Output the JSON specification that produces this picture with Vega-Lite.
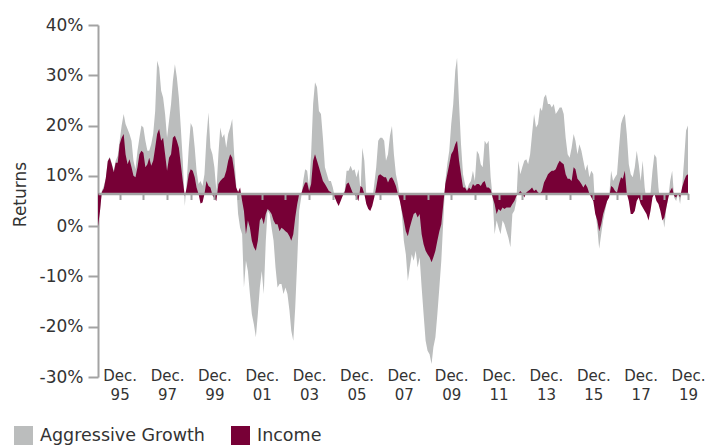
{
  "$schema": "https://vega.github.io/schema/vega-lite/v6.json",
  "width": 590,
  "height": 352,
  "autosize": {"type": "none"},
  "padding": {"left": 98, "top": 25, "right": 19, "bottom": 68},
  "background": "white",
  "config": {
    "view": {"stroke": null},
    "font": "DejaVu Sans",
    "axis": {"grid": false, "labelFont": "DejaVu Sans", "titleFont": "DejaVu Sans", "labelColor": "#333333", "titleColor": "#333333"},
    "legend": {"labelFont": "DejaVu Sans", "labelColor": "#333333", "labelLimit": 0}
  },
  "data": {
    "values": [
      {"d":"1995-01-01","g":0.5,"i":0},{"d":"1995-02-01","g":3,"i":3},{"d":"1995-03-01","g":7,"i":6.8},{"d":"1995-04-01","g":8,"i":7.5},{"d":"1995-05-01","g":9.5,"i":9.5},{"d":"1995-06-01","g":13,"i":12.9},{"d":"1995-07-01","g":13.8,"i":13.6},{"d":"1995-08-01","g":12.5,"i":12.3},{"d":"1995-09-01","g":11,"i":10.7},{"d":"1995-10-01","g":13,"i":12.6},{"d":"1995-11-01","g":14,"i":12.6},{"d":"1995-12-01","g":17,"i":16.3},
      {"d":"1996-01-01","g":20,"i":17.6},{"d":"1996-02-01","g":22.3,"i":18.3},{"d":"1996-03-01","g":20.3,"i":14.3},{"d":"1996-04-01","g":19.3,"i":12.3},{"d":"1996-05-01","g":18.3,"i":13.3},{"d":"1996-06-01","g":17,"i":11.7},{"d":"1996-07-01","g":13,"i":10},{"d":"1996-08-01","g":11.3,"i":9.7},{"d":"1996-09-01","g":15,"i":11.7},{"d":"1996-10-01","g":17.6,"i":14.3},{"d":"1996-11-01","g":20,"i":15},{"d":"1996-12-01","g":19.6,"i":14.6},
      {"d":"1997-01-01","g":17,"i":11.7},{"d":"1997-02-01","g":15,"i":12.3},{"d":"1997-03-01","g":15,"i":13.6},{"d":"1997-04-01","g":16.3,"i":12},{"d":"1997-05-01","g":18.3,"i":13},{"d":"1997-06-01","g":22.9,"i":15.6},{"d":"1997-07-01","g":32.9,"i":18.3},{"d":"1997-08-01","g":31.5,"i":19.3},{"d":"1997-09-01","g":26.9,"i":17},{"d":"1997-10-01","g":25.6,"i":17.6},{"d":"1997-11-01","g":22.3,"i":14.3},{"d":"1997-12-01","g":17.6,"i":11},
      {"d":"1998-01-01","g":21,"i":13.6},{"d":"1998-02-01","g":24.3,"i":14.3},{"d":"1998-03-01","g":28.9,"i":17.6},{"d":"1998-04-01","g":32.2,"i":18},{"d":"1998-05-01","g":29.6,"i":17},{"d":"1998-06-01","g":25.6,"i":15.6},{"d":"1998-07-01","g":19.6,"i":12.3},{"d":"1998-08-01","g":13,"i":9},{"d":"1998-09-01","g":4,"i":6},{"d":"1998-10-01","g":9,"i":7.7},{"d":"1998-11-01","g":15.6,"i":10.3},{"d":"1998-12-01","g":20.5,"i":11.3},
      {"d":"1999-01-01","g":19.6,"i":11},{"d":"1999-02-01","g":15.6,"i":9.7},{"d":"1999-03-01","g":11,"i":7.7},{"d":"1999-04-01","g":8.4,"i":6.4},{"d":"1999-05-01","g":9,"i":4.5},{"d":"1999-06-01","g":8,"i":4.7},{"d":"1999-07-01","g":10.3,"i":6.4},{"d":"1999-08-01","g":17.6,"i":9},{"d":"1999-09-01","g":22.6,"i":8},{"d":"1999-10-01","g":15.6,"i":7.7},{"d":"1999-11-01","g":14.3,"i":6.2},{"d":"1999-12-01","g":11.7,"i":5.5},
      {"d":"2000-01-01","g":7,"i":5},{"d":"2000-02-01","g":14.3,"i":8.4},{"d":"2000-03-01","g":19.6,"i":9},{"d":"2000-04-01","g":17.6,"i":9.4},{"d":"2000-05-01","g":18.3,"i":9.7},{"d":"2000-06-01","g":15.6,"i":11},{"d":"2000-07-01","g":18.3,"i":13},{"d":"2000-08-01","g":19.6,"i":14.3},{"d":"2000-09-01","g":21.3,"i":13.6},{"d":"2000-10-01","g":14.3,"i":11},{"d":"2000-11-01","g":8.4,"i":7.7},{"d":"2000-12-01","g":2.4,"i":6.8},
      {"d":"2001-01-01","g":-0.3,"i":7.7},{"d":"2001-02-01","g":-1.6,"i":5},{"d":"2001-03-01","g":-12.2,"i":3},{"d":"2001-04-01","g":-6.9,"i":-1.6},{"d":"2001-05-01","g":-8.9,"i":1.1},{"d":"2001-06-01","g":-13.5,"i":-0.3},{"d":"2001-07-01","g":-17.5,"i":-2.9},{"d":"2001-08-01","g":-19.5,"i":-4.2},{"d":"2001-09-01","g":-22.1,"i":-4.9},{"d":"2001-10-01","g":-17.5,"i":-2.9},{"d":"2001-11-01","g":-12.2,"i":1.1},{"d":"2001-12-01","g":-8.9,"i":1.7},
      {"d":"2002-01-01","g":-13.5,"i":0.4},{"d":"2002-02-01","g":-2.9,"i":2.4},{"d":"2002-03-01","g":3.1,"i":3.4},{"d":"2002-04-01","g":2.4,"i":3},{"d":"2002-05-01","g":-0.3,"i":2.4},{"d":"2002-06-01","g":-2.9,"i":1.1},{"d":"2002-07-01","g":-8.2,"i":0.4},{"d":"2002-08-01","g":-12.2,"i":0.4},{"d":"2002-09-01","g":-11.5,"i":-1},{"d":"2002-10-01","g":-11.5,"i":-0.3},{"d":"2002-11-01","g":-13.5,"i":-0.6},{"d":"2002-12-01","g":-12.2,"i":-1},
      {"d":"2003-01-01","g":-13.5,"i":-1.3},{"d":"2003-02-01","g":-16.8,"i":-2},{"d":"2003-03-01","g":-20.8,"i":-2.9},{"d":"2003-04-01","g":-22.8,"i":-1.6},{"d":"2003-05-01","g":-16.2,"i":1.7},{"d":"2003-06-01","g":-6.9,"i":4.4},{"d":"2003-07-01","g":3.1,"i":6.4},{"d":"2003-08-01","g":5.7,"i":6.4},{"d":"2003-09-01","g":9,"i":7.7},{"d":"2003-10-01","g":11.3,"i":8.7},{"d":"2003-11-01","g":11,"i":8.7},{"d":"2003-12-01","g":7.7,"i":7},
      {"d":"2004-01-01","g":14.3,"i":8.4},{"d":"2004-02-01","g":24.3,"i":13},{"d":"2004-03-01","g":28.6,"i":14.3},{"d":"2004-04-01","g":27.6,"i":13},{"d":"2004-05-01","g":22.9,"i":11.7},{"d":"2004-06-01","g":22.3,"i":10.3},{"d":"2004-07-01","g":17.6,"i":9},{"d":"2004-08-01","g":11.7,"i":8.4},{"d":"2004-09-01","g":10.3,"i":7.7},{"d":"2004-10-01","g":9,"i":7},{"d":"2004-11-01","g":9,"i":6.8},{"d":"2004-12-01","g":7.7,"i":6.3},
      {"d":"2005-01-01","g":5.7,"i":5.7},{"d":"2005-02-01","g":5,"i":4.7},{"d":"2005-03-01","g":4.4,"i":4},{"d":"2005-04-01","g":5.7,"i":5},{"d":"2005-05-01","g":6.4,"i":6},{"d":"2005-06-01","g":7,"i":6.8},{"d":"2005-07-01","g":11,"i":8.4},{"d":"2005-08-01","g":11,"i":8.7},{"d":"2005-09-01","g":12,"i":7.7},{"d":"2005-10-01","g":11,"i":6.7},{"d":"2005-11-01","g":11.3,"i":6.4},{"d":"2005-12-01","g":9.7,"i":5.7},
      {"d":"2006-01-01","g":11.3,"i":5},{"d":"2006-02-01","g":7,"i":8},{"d":"2006-03-01","g":15.6,"i":7.7},{"d":"2006-04-01","g":13,"i":6.4},{"d":"2006-05-01","g":6.4,"i":4.4},{"d":"2006-06-01","g":5,"i":3.4},{"d":"2006-07-01","g":4.4,"i":3},{"d":"2006-08-01","g":5,"i":4},{"d":"2006-09-01","g":8.4,"i":5.7},{"d":"2006-10-01","g":11.7,"i":7.7},{"d":"2006-11-01","g":17,"i":10},{"d":"2006-12-01","g":17.6,"i":10.3},
      {"d":"2007-01-01","g":17.6,"i":10},{"d":"2007-02-01","g":17,"i":9.7},{"d":"2007-03-01","g":13,"i":9.7},{"d":"2007-04-01","g":14.3,"i":8.7},{"d":"2007-05-01","g":18,"i":9.5},{"d":"2007-06-01","g":19.9,"i":9.7},{"d":"2007-07-01","g":14.3,"i":9},{"d":"2007-08-01","g":10.3,"i":8},{"d":"2007-09-01","g":8.4,"i":6.4},{"d":"2007-10-01","g":5.7,"i":5},{"d":"2007-11-01","g":2.4,"i":3},{"d":"2007-12-01","g":-2.9,"i":1.1},
      {"d":"2008-01-01","g":-5.6,"i":-1},{"d":"2008-02-01","g":-10.9,"i":-2},{"d":"2008-03-01","g":-8.2,"i":-0.3},{"d":"2008-04-01","g":-5.6,"i":1.1},{"d":"2008-05-01","g":-6.9,"i":2.4},{"d":"2008-06-01","g":-4.9,"i":2.7},{"d":"2008-07-01","g":-8.2,"i":1.7},{"d":"2008-08-01","g":-6.2,"i":2.4},{"d":"2008-09-01","g":-12.2,"i":-1.6},{"d":"2008-10-01","g":-17.5,"i":-3.6},{"d":"2008-11-01","g":-22.8,"i":-4.9},{"d":"2008-12-01","g":-24.8,"i":-5.6},
      {"d":"2009-01-01","g":-25.5,"i":-6.2},{"d":"2009-02-01","g":-27.4,"i":-7.2},{"d":"2009-03-01","g":-24.1,"i":-6.2},{"d":"2009-04-01","g":-22.1,"i":-4.9},{"d":"2009-05-01","g":-17.5,"i":-2.9},{"d":"2009-06-01","g":-12.2,"i":-1},{"d":"2009-07-01","g":-6.9,"i":0.4},{"d":"2009-08-01","g":1.1,"i":4.4},{"d":"2009-09-01","g":9,"i":8.4},{"d":"2009-10-01","g":12.3,"i":10.3},{"d":"2009-11-01","g":15,"i":12.3},{"d":"2009-12-01","g":20.3,"i":14.3},
      {"d":"2010-01-01","g":24.3,"i":15},{"d":"2010-02-01","g":30.9,"i":16.3},{"d":"2010-03-01","g":33.5,"i":17},{"d":"2010-04-01","g":24.3,"i":13},{"d":"2010-05-01","g":16.3,"i":10.3},{"d":"2010-06-01","g":10.3,"i":7.7},{"d":"2010-07-01","g":8.4,"i":7.7},{"d":"2010-08-01","g":7.3,"i":7},{"d":"2010-09-01","g":8.4,"i":7.7},{"d":"2010-10-01","g":9,"i":7.3},{"d":"2010-11-01","g":11,"i":8.4},{"d":"2010-12-01","g":9,"i":8},
      {"d":"2011-01-01","g":15,"i":8.4},{"d":"2011-02-01","g":14.3,"i":8.4},{"d":"2011-03-01","g":12.3,"i":8},{"d":"2011-04-01","g":11.7,"i":8.7},{"d":"2011-05-01","g":17,"i":9},{"d":"2011-06-01","g":16.3,"i":7.7},{"d":"2011-07-01","g":17,"i":7.7},{"d":"2011-08-01","g":9.7,"i":7.3},{"d":"2011-09-01","g":5.7,"i":5.7},{"d":"2011-10-01","g":-1.6,"i":4.4},{"d":"2011-11-01","g":1.1,"i":2.4},{"d":"2011-12-01","g":-0.3,"i":3.4},
      {"d":"2012-01-01","g":-1.6,"i":3},{"d":"2012-02-01","g":1.1,"i":3.7},{"d":"2012-03-01","g":0.4,"i":3.4},{"d":"2012-04-01","g":-1,"i":3.7},{"d":"2012-05-01","g":-2.3,"i":3.7},{"d":"2012-06-01","g":-4.2,"i":3.7},{"d":"2012-07-01","g":2.4,"i":4.4},{"d":"2012-08-01","g":3.1,"i":5},{"d":"2012-09-01","g":5,"i":6},{"d":"2012-10-01","g":13,"i":6.5},{"d":"2012-11-01","g":10.3,"i":7},{"d":"2012-12-01","g":11.7,"i":6.5},
      {"d":"2013-01-01","g":13,"i":5.7},{"d":"2013-02-01","g":13.3,"i":6.7},{"d":"2013-03-01","g":12.3,"i":7},{"d":"2013-04-01","g":14.3,"i":7.3},{"d":"2013-05-01","g":18.3,"i":7.7},{"d":"2013-06-01","g":22.3,"i":7},{"d":"2013-07-01","g":19.6,"i":7.3},{"d":"2013-08-01","g":20.3,"i":6.7},{"d":"2013-09-01","g":23.6,"i":6.5},{"d":"2013-10-01","g":22.9,"i":7},{"d":"2013-11-01","g":25.6,"i":8.7},{"d":"2013-12-01","g":26.2,"i":9.4},
      {"d":"2014-01-01","g":24.3,"i":10.3},{"d":"2014-02-01","g":24.3,"i":10.7},{"d":"2014-03-01","g":23.6,"i":11},{"d":"2014-04-01","g":24.3,"i":11},{"d":"2014-05-01","g":22.3,"i":11.3},{"d":"2014-06-01","g":22.9,"i":12.3},{"d":"2014-07-01","g":23.6,"i":13},{"d":"2014-08-01","g":23.6,"i":12.6},{"d":"2014-09-01","g":22.3,"i":12.3},{"d":"2014-10-01","g":17.6,"i":10.3},{"d":"2014-11-01","g":14.3,"i":9.4},{"d":"2014-12-01","g":13.6,"i":9.4},
      {"d":"2015-01-01","g":15.6,"i":9},{"d":"2015-02-01","g":18.3,"i":11.7},{"d":"2015-03-01","g":17,"i":11.3},{"d":"2015-04-01","g":14.3,"i":9.4},{"d":"2015-05-01","g":16.3,"i":9},{"d":"2015-06-01","g":15,"i":8.4},{"d":"2015-07-01","g":13,"i":7.7},{"d":"2015-08-01","g":11,"i":8.4},{"d":"2015-09-01","g":12.3,"i":7.7},{"d":"2015-10-01","g":9.7,"i":6.5},{"d":"2015-11-01","g":11,"i":5.7},{"d":"2015-12-01","g":10.3,"i":5},
      {"d":"2016-01-01","g":3.1,"i":2.4},{"d":"2016-02-01","g":-0.3,"i":1.1},{"d":"2016-03-01","g":-4.5,"i":-1},{"d":"2016-04-01","g":-1.6,"i":0.4},{"d":"2016-05-01","g":1.1,"i":2.4},{"d":"2016-06-01","g":3.1,"i":3.7},{"d":"2016-07-01","g":5,"i":5},{"d":"2016-08-01","g":5.7,"i":5.7},{"d":"2016-09-01","g":11,"i":8},{"d":"2016-10-01","g":9,"i":7.7},{"d":"2016-11-01","g":9.7,"i":7},{"d":"2016-12-01","g":10.3,"i":6.7},
      {"d":"2017-01-01","g":15.6,"i":8.4},{"d":"2017-02-01","g":20.3,"i":9.7},{"d":"2017-03-01","g":21.5,"i":9.4},{"d":"2017-04-01","g":22.3,"i":11},{"d":"2017-05-01","g":18.3,"i":6.5},{"d":"2017-06-01","g":12.3,"i":5},{"d":"2017-07-01","g":10.3,"i":2.4},{"d":"2017-08-01","g":9.7,"i":2.4},{"d":"2017-09-01","g":11.7,"i":3},{"d":"2017-10-01","g":15,"i":5},{"d":"2017-11-01","g":12.3,"i":5.7},{"d":"2017-12-01","g":9,"i":4.4},
      {"d":"2018-01-01","g":13,"i":3.7},{"d":"2018-02-01","g":7.7,"i":3},{"d":"2018-03-01","g":5,"i":2.4},{"d":"2018-04-01","g":2.4,"i":1.1},{"d":"2018-05-01","g":6.5,"i":3},{"d":"2018-06-01","g":11,"i":5.7},{"d":"2018-07-01","g":14.3,"i":6.5},{"d":"2018-08-01","g":13.6,"i":5},{"d":"2018-09-01","g":7.7,"i":4.4},{"d":"2018-10-01","g":4.4,"i":3},{"d":"2018-11-01","g":2.4,"i":1.1},{"d":"2018-12-01","g":-0.3,"i":1.7},
      {"d":"2019-01-01","g":3.7,"i":3.7},{"d":"2019-02-01","g":5.7,"i":5.7},{"d":"2019-03-01","g":9,"i":7},{"d":"2019-04-01","g":11,"i":7.7},{"d":"2019-05-01","g":5.7,"i":6},{"d":"2019-06-01","g":5,"i":5.7},{"d":"2019-07-01","g":6.5,"i":6.5},{"d":"2019-08-01","g":4.4,"i":5.7},{"d":"2019-09-01","g":7.7,"i":7.7},{"d":"2019-10-01","g":13,"i":9},{"d":"2019-11-01","g":19,"i":10},{"d":"2019-12-01","g":20,"i":10.3}
    ]
  },
  "encoding": {
    "x": {
      "field": "d",
      "type": "temporal",
      "scale": {"type": "utc", "domain": [{"year": 1995, "month": 1, "date": 1, "utc": true}, {"year": 2019, "month": 12, "date": 1, "utc": true}]},
      "axis": {
        "title": null,
        "offset": -183.5,
        "zindex": 1,
        "domainColor": "#A3A3A3",
        "domainWidth": 2.5,
        "tickColor": "#A3A3A3",
        "tickWidth": 2,
        "tickSize": 6,
        "values": [
          {"year": 1995, "month": 12, "date": 1, "utc": true},{"year": 1996, "month": 12, "date": 1, "utc": true},{"year": 1997, "month": 12, "date": 1, "utc": true},{"year": 1998, "month": 12, "date": 1, "utc": true},{"year": 1999, "month": 12, "date": 1, "utc": true},
          {"year": 2000, "month": 12, "date": 1, "utc": true},{"year": 2001, "month": 12, "date": 1, "utc": true},{"year": 2002, "month": 12, "date": 1, "utc": true},{"year": 2003, "month": 12, "date": 1, "utc": true},{"year": 2004, "month": 12, "date": 1, "utc": true},
          {"year": 2005, "month": 12, "date": 1, "utc": true},{"year": 2006, "month": 12, "date": 1, "utc": true},{"year": 2007, "month": 12, "date": 1, "utc": true},{"year": 2008, "month": 12, "date": 1, "utc": true},{"year": 2009, "month": 12, "date": 1, "utc": true},
          {"year": 2010, "month": 12, "date": 1, "utc": true},{"year": 2011, "month": 12, "date": 1, "utc": true},{"year": 2012, "month": 12, "date": 1, "utc": true},{"year": 2013, "month": 12, "date": 1, "utc": true},{"year": 2014, "month": 12, "date": 1, "utc": true},
          {"year": 2015, "month": 12, "date": 1, "utc": true},{"year": 2016, "month": 12, "date": 1, "utc": true},{"year": 2017, "month": 12, "date": 1, "utc": true},{"year": 2018, "month": 12, "date": 1, "utc": true},{"year": 2019, "month": 12, "date": 1, "utc": true}
        ],
        "labelExpr": "utcyear(datum.value) % 2 == 1 ? ['Dec.', utcFormat(datum.value, '%y')] : ''",
        "labelOverlap": false,
        "labelBound": false,
        "labelFlush": false,
        "labelPadding": 169,
        "labelFontSize": 15,
        "labelLineHeight": 19,
        "labelColor": "#333333"
      }
    }
  },
  "layer": [
    {
      "mark": {"type": "area", "interpolate": "linear"},
      "encoding": {
        "y": {
          "field": "g",
          "type": "quantitative",
          "scale": {"domain": [-30, 40], "nice": false},
          "axis": {
            "title": "Returns",
            "values": [-30, -20, -10, 0, 10, 20, 30, 40],
            "labelExpr": "datum.value + '%'",
            "domainColor": "#A3A3A3",
            "domainWidth": 2,
            "tickColor": "#A3A3A3",
            "tickWidth": 2,
            "tickSize": 10,
            "labelPadding": 5,
            "labelFontSize": 17,
            "titleFontSize": 17,
            "titleFontWeight": "normal",
            "titlePadding": 10,
            "titleY": 169
          }
        },
        "y2": {"datum": 6.5},
        "color": {
          "datum": "Aggressive Growth",
          "type": "nominal",
          "scale": {"domain": ["Aggressive Growth", "Income"], "range": ["#BBBDBD", "#770036"]},
          "legend": {
            "title": null,
            "orient": "none",
            "legendX": -84,
            "legendY": 401,
            "direction": "horizontal",
            "symbolType": "square",
            "symbolSize": 361,
            "symbolStrokeWidth": 0,
            "symbolOpacity": 1,
            "labelFontSize": 17.5,
            "labelLimit": 0,
            "labelOffset": 7,
            "columnPadding": 26
          }
        }
      }
    },
    {
      "mark": {"type": "area", "interpolate": "linear"},
      "encoding": {
        "y": {"field": "i", "type": "quantitative"},
        "y2": {"datum": 6.5},
        "color": {"datum": "Income", "type": "nominal"}
      }
    }
  ]
}
